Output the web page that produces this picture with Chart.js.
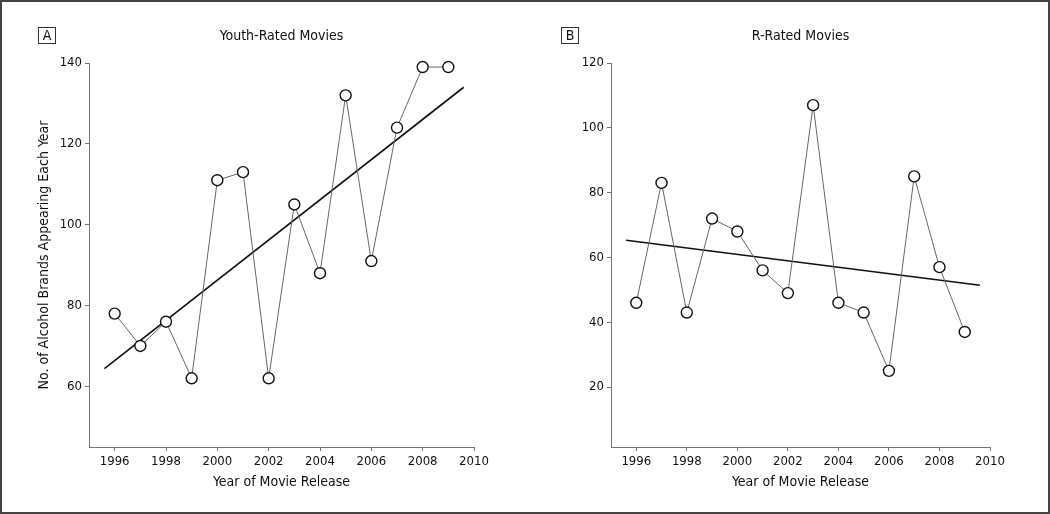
<!DOCTYPE html>
<html>
<head>
<meta charset="utf-8">
<script src="https://cdn.jsdelivr.net/npm/chart.js@4/dist/chart.umd.min.js"></script>
<style>
  body { margin: 0; background: #fff; }
  #frame { position: absolute; left: 0; top: 0; width: 1050px; height: 514px; box-sizing: border-box; border: 2px solid #444; }
  .panel { position: absolute; top: 0; width: 525px; height: 514px; }
  .tag { position: absolute; top: 27px; width: 16px; height: 15px; border: 1px solid #333; font: 14px "DejaVu Sans Condensed", "Liberation Sans Narrow", "Roboto", sans-serif; text-align: center; line-height: 15px; color: #111; }
</style>
</head>
<body>
<div id="frame"></div>
<div class="panel" style="left:0"><canvas id="chartA"></canvas></div>
<div class="panel" style="left:525px"><canvas id="chartB"></canvas></div>
<div class="tag" style="left:38px">A</div>
<div class="tag" style="left:561px">B</div>
<script>
// Daten
const years = [1996, 1997, 1998, 1999, 2000, 2001, 2002, 2003, 2004, 2005, 2006, 2007, 2008, 2009];
const youthBrands = [78, 70, 76, 62, 111, 113, 62, 105, 88, 132, 91, 124, 139, 139];
const rBrands = [46, 83, 43, 72, 68, 56, 49, 107, 46, 43, 25, 85, 57, 37];
// Trendlinien (Endpunkte)
const youthTrend = [[1995.6, 64.4], [2009.6, 134.0]];
const rTrend = [[1995.6, 65.3], [2009.6, 51.4]];
// Achsenbeschriftungen
const xTicks = [1996, 1998, 2000, 2002, 2004, 2006, 2008, 2010];
const yTicksA = [60, 80, 100, 120, 140];
const yTicksB = [20, 40, 60, 80, 100, 120];

const FONT = '"DejaVu Sans Condensed", "Liberation Sans Narrow", "Roboto", sans-serif';
const AXIS = '#777';
const TEXT = '#111';

// Titel über der Plotfläche zentriert
const panelTitle = {
    id: 'panelTitle',
    afterDraw(chart, args, opts) {
        const { ctx, chartArea } = chart;
        ctx.save();
        ctx.font = '14px ' + FONT;
        ctx.fillStyle = TEXT;
        ctx.textAlign = 'center';
        ctx.textBaseline = 'middle';
        ctx.fillText(opts.text, (chartArea.left + chartArea.right) / 2, 36);
        ctx.restore();
    }
};

function makeChart(id, values, trend, yMin, yMax, yTicks, padLeft, yWidth, padRight, yTitle, title) {
    return new Chart(document.getElementById(id), {
        type: 'line',
        data: {
            datasets: [
                {
                    data: years.map((y, i) => ({ x: y, y: values[i] })),
                    borderColor: '#666',
                    borderWidth: 1,
                    pointRadius: 5.5,
                    pointBackgroundColor: '#fff',
                    pointBorderColor: '#111',
                    pointBorderWidth: 1.4,
                    tension: 0,
                    clip: false
                },
                {
                    data: trend.map(p => ({ x: p[0], y: p[1] })),
                    borderColor: '#111',
                    borderWidth: 1.6,
                    pointRadius: 0
                }
            ]
        },
        options: {
            responsive: false,
            animation: false,
            layout: { padding: { top: 63, right: padRight, left: padLeft, bottom: 23 } },
            plugins: {
                legend: { display: false },
                tooltip: { enabled: false },
                panelTitle: { text: title }
            },
            scales: {
                x: {
                    type: 'linear',
                    min: 1995,
                    max: 2010,
                    afterBuildTicks: s => { s.ticks = xTicks.map(v => ({ value: v })); },
                    afterFit: s => { s.height = 44; },
                    grid: { drawOnChartArea: false, tickLength: 4, color: AXIS },
                    border: { color: AXIS, width: 1 },
                    ticks: { font: { family: FONT, size: 13 }, color: TEXT, padding: 3, callback: v => String(v) },
                    title: { display: true, text: 'Year of Movie Release', font: { family: FONT, size: 14 }, color: TEXT, padding: 0 }
                },
                y: {
                    min: yMin,
                    max: yMax,
                    afterBuildTicks: s => { s.ticks = yTicks.map(v => ({ value: v })); },
                    afterFit: s => { s.width = yWidth; },
                    grid: { drawOnChartArea: false, tickLength: 4, color: AXIS },
                    border: { color: AXIS, width: 1 },
                    ticks: { font: { family: FONT, size: 13 }, color: TEXT, padding: 3 },
                    title: { display: yTitle !== '', text: yTitle, font: { family: FONT, size: 14 }, color: TEXT, padding: 0 }
                }
            }
        },
        plugins: [panelTitle]
    });
}

const cA = document.getElementById('chartA');
const cB = document.getElementById('chartB');
cA.width = 525; cA.height = 514;
cB.width = 525; cB.height = 514;

makeChart('chartA', youthBrands, youthTrend, 45, 140, yTicksA, 36, 53, 51,
    'No. of Alcohol Brands Appearing Each Year', 'Youth-Rated Movies');
makeChart('chartB', rBrands, rTrend, 1.5, 120, yTicksB, 0, 86, 60,
    '', 'R-Rated Movies');
</script>
</body>
</html>
